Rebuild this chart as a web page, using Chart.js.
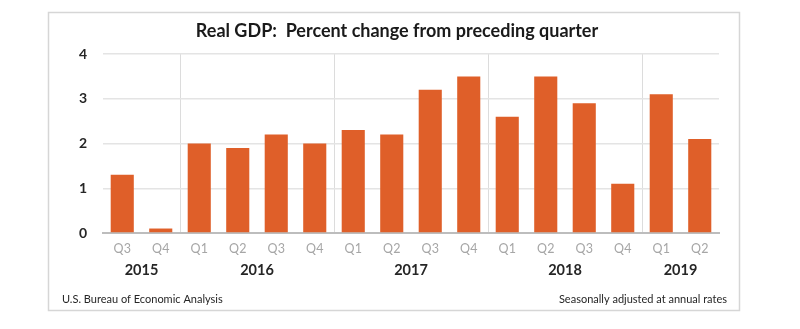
<!DOCTYPE html>
<html>
<head>
<meta charset="utf-8">
<script src="https://cdn.jsdelivr.net/npm/chart.js@4.4.0/dist/chart.umd.min.js"></script>
<style>
  html, body { margin: 0; padding: 0; background: #fff; }
  #wrap { position: relative; width: 800px; height: 329px; }
</style>
</head>
<body>
<div id="wrap"><canvas id="gdpChart" width="800" height="329"></canvas></div>
<script>
// Quarter labels and values (percent change, seasonally adjusted annual rate)
const quarters = ["Q3", "Q4", "Q1", "Q2", "Q3", "Q4", "Q1", "Q2", "Q3", "Q4", "Q1", "Q2", "Q3", "Q4", "Q1", "Q2"];
const gdpChange = [1.3, 0.1, 2.0, 1.9, 2.2, 2.0, 2.3, 2.2, 3.2, 3.5, 2.6, 3.5, 2.9, 1.1, 3.1, 2.1];
const years = ["2015", "2016", "2017", "2018", "2019"];
const yearStart = [0, 2, 6, 10, 14];
const yearEnd = [1, 5, 9, 13, 15];
const yTicks = [0, 1, 2, 3, 4];

const FONT = "Lato, 'Open Sans', sans-serif";
const BAR = "#DF5F29";

// frame, title, year row and footer notes
const decorations = {
  id: "decorations",
  afterDraw(chart) {
    const ctx = chart.ctx;
    const x = chart.scales.x;
    ctx.save();

    ctx.strokeStyle = "#d6d6d6";
    ctx.lineWidth = 1.5;
    ctx.strokeRect(48.5, 12.5, 691, 298);

    ctx.fillStyle = "#1a1a1a";
    ctx.font = "bold 18px " + FONT;
    ctx.textAlign = "center";
    ctx.textBaseline = "middle";
    ctx.fillText("Real GDP:  Percent change from preceding quarter", 397, 31);

    ctx.font = "bold 14.5px " + FONT;
    ctx.fillStyle = "#262626";
    years.forEach((yr, i) => {
      const cx = (x.getPixelForValue(yearStart[i]) + x.getPixelForValue(yearEnd[i])) / 2;
      ctx.fillText(yr, cx, 270);
    });

    ctx.font = "11px " + FONT;
    ctx.textAlign = "left";
    ctx.fillText("U.S. Bureau of Economic Analysis", 62, 299);
    ctx.textAlign = "right";
    ctx.fillText("Seasonally adjusted at annual rates", 727, 299);
    ctx.restore();
  }
};

new Chart(document.getElementById("gdpChart"), {
  type: "bar",
  data: {
    labels: quarters,
    datasets: [{
      data: gdpChange,
      backgroundColor: BAR,
      borderWidth: 0,
      barPercentage: 0.6,
      categoryPercentage: 1.0
    }]
  },
  options: {
    responsive: false,
    animation: false,
    layout: { padding: { left: 48, top: 54, right: 81, bottom: 0 } },
    plugins: { legend: { display: false }, tooltip: { enabled: false } },
    scales: {
      x: {
        afterFit(scale) { scale.height = 96; },
        grid: {
          offset: true,
          drawTicks: false,
          color: (c) => ([2, 6, 10, 14].includes(c.index) ? "#dcdcdc" : "rgba(0,0,0,0)"),
          lineWidth: 1
        },
        border: { color: "#bdbdbd", width: 2 },
        ticks: {
          color: "#a6a6a6",
          font: { family: FONT, size: 12.5 },
          padding: 8,
          maxRotation: 0,
          autoSkip: false
        }
      },
      y: {
        min: 0,
        max: 4,
        afterFit(scale) { scale.width = 55; },
        afterBuildTicks(scale) { scale.ticks = yTicks.map((v) => ({ value: v })); },
        grid: {
          drawTicks: false,
          color: (c) => (c.tick && c.tick.value === 0 ? "rgba(0,0,0,0)" : "#e4e4e4"),
          lineWidth: 1.5
        },
        border: { display: false },
        ticks: {
          color: "#262626",
          font: { family: FONT, size: 14, weight: "bold" },
          padding: 16
        }
      }
    }
  },
  plugins: [decorations]
});
</script>
</body>
</html>
